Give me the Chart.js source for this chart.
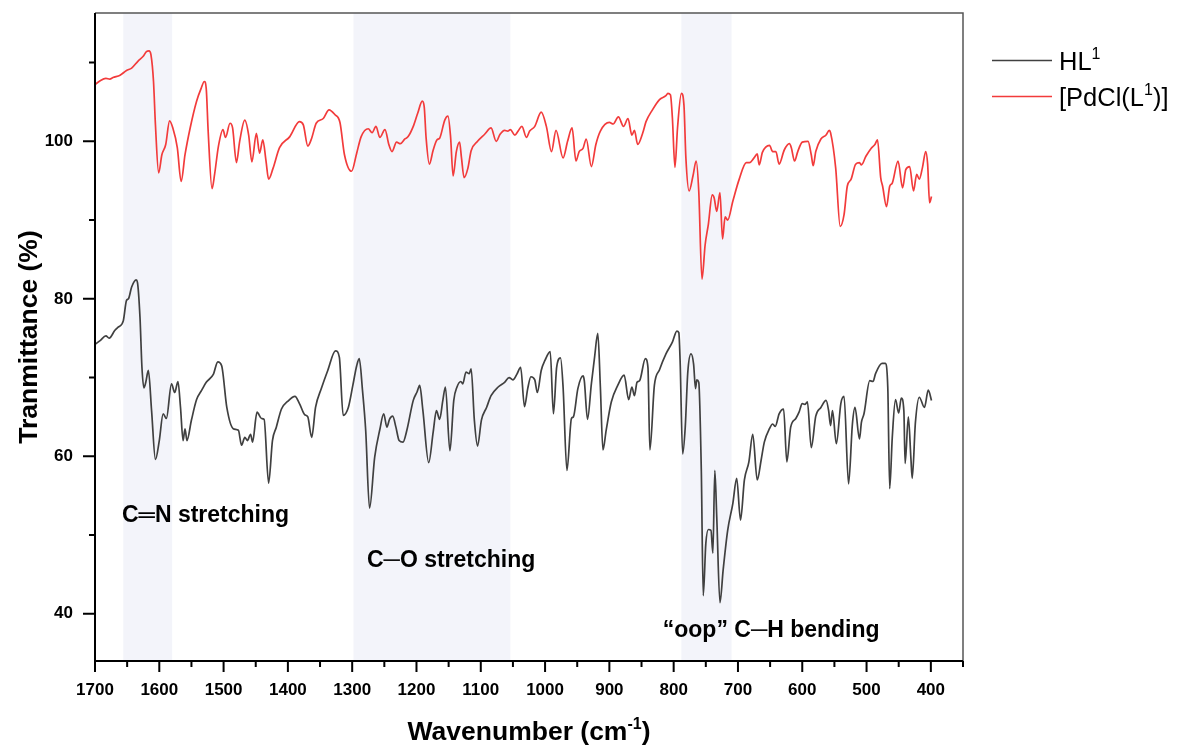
<!DOCTYPE html>
<html><head><meta charset="utf-8">
<script src="https://cdn.jsdelivr.net/npm/chart.js@4.4.1/dist/chart.umd.min.js"></script>
<style>html,body{margin:0;padding:0;background:#fff;}#wrap{width:1178px;height:747px;}</style>
</head><body><div id="wrap"><canvas id="c" width="1178" height="747"></canvas></div>
<script>
// ---- data (wavenumber in cm-1, transmittance in %) ----
const hlWave = [1700,1692,1683,1678,1669,1664,1656,1651,1648,1643,1636,1634,1630,1627,1624,1621,1617,1612,1606,1600,1594,1589,1581,1576,1571,1567,1563,1560,1557,1550,1542,1534,1527,1516,1509,1503,1495,1485,1477,1472,1467,1463,1458,1455,1448,1441,1437,1430,1424,1418,1410,1400,1389,1382,1374,1369,1363,1357,1348,1338,1326,1320,1314,1306,1299,1293,1289,1284,1279,1273,1265,1257,1251,1246,1242,1237,1232,1227,1221,1215,1205,1199,1195,1190,1181,1174,1169,1164,1159,1155,1148,1142,1137,1131,1128,1123,1118,1115,1110,1105,1099,1091,1084,1073,1063,1056,1050,1044,1038,1032,1027,1022,1016,1012,1006,1000,992,987,982,976,972,966,959,956,949,941,939,934,928,923,918,914,910,905,897,887,877,870,865,861,857,853,844,840,837,830,822,812,802,795,792,790,786,782,778,773,769,766,764,761,757,754,750,746,742,739,736,733,728,723,716,708,702,696,690,683,677,670,664,659,651,646,642,636,629,624,618,610,605,600,596,592,586,579,571,563,559,556,553,547,540,535,528,522,518,511,508,504,495,490,486,476,471,467,464,460,455,450,446,442,440,435,431,429,424,418,410,404,399];
const hlTrans = [74.2,74.7,75.3,75.0,76.0,76.4,77.2,79.8,80.0,81.5,82.4,82.1,77.6,71.3,68.7,69.4,70.9,65.8,59.6,62.0,65.4,64.8,69.2,68.1,69.5,66.2,62.0,63.5,62.0,64.6,67.2,68.4,69.4,70.4,72.0,71.5,66.2,63.5,63.3,61.4,62.4,62.0,62.8,61.8,65.6,64.8,64.7,56.6,62.0,63.7,66.0,67.0,67.6,66.7,65.3,65.0,62.4,66.2,68.6,70.9,73.4,72.6,65.2,66.2,69.0,71.5,72.4,68.4,63.3,53.4,59.9,63.4,65.4,63.7,64.7,65.1,63.7,62.0,61.8,63.3,67.1,68.2,69.0,65.8,59.2,63.1,65.8,64.7,67.1,68.8,60.7,67.1,68.8,69.5,69.2,70.7,70.5,71.1,64.6,61.3,64.6,66.2,67.7,68.8,69.4,70.0,69.7,70.4,71.3,66.3,68.6,70.1,69.7,68.1,70.9,72.2,73.3,65.4,71.3,72.5,68.8,58.2,64.8,65.0,68.6,70.2,69.6,64.7,69.2,72.6,75.6,68.8,60.8,63.3,66.9,69.0,70.3,67.2,68.8,67.7,69.4,69.6,72.4,71.3,60.8,69.0,71.0,73.0,74.5,75.9,75.7,72.2,60.3,63.7,70.7,73.0,71.7,68.6,69.7,69.4,58.2,42.3,48.9,50.7,50.6,47.7,58.2,52.3,41.4,45.6,50.6,54.0,57.2,51.9,57.0,59.3,62.8,57.0,59.5,61.8,63.5,64.1,63.8,65.4,66.0,59.3,63.7,64.8,65.6,66.7,66.6,66.9,61.1,65.1,66.2,67.1,65.8,63.9,65.8,61.6,66.7,67.6,56.5,64.1,66.2,62.2,64.3,65.4,69.6,69.5,70.5,71.8,71.8,68.8,55.9,62.4,67.2,65.5,67.4,65.8,59.1,65.0,59.7,57.2,64.3,67.5,66.2,68.4,67.1];

const pdWave = [1700,1692,1683,1677,1672,1661,1651,1643,1633,1625,1620,1616,1613,1609,1606,1601,1596,1590,1584,1579,1572,1566,1560,1552,1542,1535,1530,1527,1524,1518,1514,1508,1501,1497,1490,1486,1480,1475,1467,1461,1456,1449,1444,1439,1434,1430,1423,1413,1397,1382,1376,1369,1363,1356,1345,1336,1327,1319,1312,1301,1293,1286,1275,1269,1263,1257,1249,1243,1238,1231,1225,1218,1213,1205,1198,1191,1188,1185,1180,1174,1168,1164,1156,1151,1147,1143,1138,1133,1130,1126,1120,1115,1105,1094,1084,1076,1070,1063,1058,1054,1047,1042,1036,1029,1024,1016,1006,998,990,983,972,965,958,952,947,941,936,928,921,914,900,894,886,878,871,865,861,856,848,843,833,822,812,809,805,802,798,794,788,784,781,776,770,765,761,756,751,746,740,737,733,728,724,720,716,708,698,687,682,675,670,667,662,651,646,641,636,628,620,617,612,607,600,591,586,583,579,571,563,558,556,548,541,535,530,524,517,511,508,501,493,487,483,478,475,469,464,460,451,444,439,433,427,422,418,413,408,405,402,399];
const pdTrans = [107.2,107.7,108.0,107.9,108.1,108.4,109.0,109.3,110.2,110.8,111.4,111.5,111.0,107.6,102.1,96.0,98.3,99.6,102.6,101.7,99.2,94.9,98.3,101.7,105.1,106.7,107.6,106.7,101.3,94.0,95.8,99.4,101.5,100.5,102.3,101.7,97.3,100.0,102.7,100.8,97.4,101.0,98.5,100.2,97.5,95.2,96.6,99.2,100.6,102.5,102.1,99.4,100.4,102.3,102.9,104.0,103.4,102.4,98.3,96.2,98.5,100.6,101.6,101.1,101.9,100.5,101.5,99.6,98.7,99.9,99.7,100.3,100.6,101.9,103.6,105.1,104.4,100.4,97.1,98.9,100.2,100.4,102.7,103.2,100.6,95.6,98.7,99.9,97.9,95.4,96.6,98.8,100.0,100.9,101.7,100.0,100.9,101.4,101.3,101.5,100.8,101.3,101.9,100.5,101.3,101.9,103.7,101.9,98.7,101.4,97.9,100.0,101.7,97.5,98.7,99.1,100.3,96.8,99.6,101.3,102.4,102.2,103.1,101.9,102.9,100.8,101.4,99.6,101.1,102.5,104.0,105.3,105.8,106.1,105.9,103.0,96.7,101.7,106.1,104.6,97.9,93.7,95.6,97.5,93.7,82.5,86.9,89.5,93.2,92.8,91.1,93.5,87.6,90.4,90.0,92.4,95.2,97.3,97.3,97.9,98.4,97.0,98.6,99.5,98.7,98.7,97.1,98.9,99.7,99.2,97.5,98.7,99.9,100.0,98.3,96.9,98.7,100.3,100.8,101.4,101.1,96.6,89.2,90.7,94.3,95.2,97.1,97.3,97.0,98.1,99.1,99.6,100.2,95.4,94.3,91.7,94.3,94.7,97.5,94.1,96.4,96.8,93.7,95.8,95.2,96.7,98.7,97.1,92.2,93.0];

const xRange = [350, 1700];
const yRange = [34, 116.3];
const bands = [[1656,1580],[1298,1054],[788,710]];
const annoTexts = ['C\u2550N stretching','C\u2500O stretching','\u201Coop\u201D C\u2500H bending'];
const annoWave = [1658, 1277, 817];
const annoTrans = [52.4, 46.8, 37.85];
const seriesLabels = [[['HL',0],['1',1]], [['[PdCl(L',0],['1',1],[')]',0]]];
const xTitle = [['Wavenumber (cm',0],['-1',1],[')',0]];
const yTitle = [['Tranmittance (%)',0]];

const FONT = "'Liberation Sans', Arial, Helvetica, sans-serif";
const HL_COLOR = '#404040', PD_COLOR = '#f23b3b';

function toPts(w, t){ return w.map((v,i)=>({x:v, y:t[i]})); }

function richWidth(ctx, parts, size, bold){
  let w=0;
  for(const [t,s] of parts){
    ctx.font = (bold?'bold ':'') + (s? Math.round(size*0.62):size) + 'px ' + FONT;
    w += ctx.measureText(t).width;
  }
  return w;
}
function drawRich(ctx, parts, x, y, size, bold, align){
  const total = richWidth(ctx, parts, size, bold);
  let cx = align==='center' ? x-total/2 : x;
  ctx.textBaseline = 'alphabetic';
  ctx.textAlign = 'left';
  for(const [t,s] of parts){
    const fs = s? Math.round(size*0.62):size;
    ctx.font = (bold?'bold ':'') + fs + 'px ' + FONT;
    ctx.fillText(t, cx, s? y - size*0.42 : y);
    cx += ctx.measureText(t).width;
  }
}

const decor = {
  id:'decor',
  beforeDatasetsDraw(chart){
    const {ctx, chartArea:a, scales:{x}} = chart;
    ctx.save();
    ctx.fillStyle = '#f3f4fa';
    for(const b of bands){
      const x1 = x.getPixelForValue(b[0]), x2 = x.getPixelForValue(b[1]);
      ctx.fillRect(Math.min(x1,x2), a.top, Math.abs(x2-x1), a.bottom-a.top);
    }
    ctx.restore();
  },
  afterDatasetsDraw(chart){
    const {ctx, chartArea:a, scales:{x,y}} = chart;
    ctx.save();
    ctx.strokeStyle = '#555'; ctx.lineWidth = 1.5;
    ctx.beginPath(); ctx.moveTo(a.left, a.top); ctx.lineTo(a.right, a.top); ctx.lineTo(a.right, a.bottom); ctx.stroke();
    ctx.strokeStyle = '#000'; ctx.lineWidth = 2;
    ctx.beginPath(); ctx.moveTo(a.left, a.top); ctx.lineTo(a.left, a.bottom); ctx.lineTo(a.right, a.bottom); ctx.stroke();
    ctx.lineWidth = 2;
    ctx.beginPath();
    for(const t of x.ticks){
      const px = x.getPixelForValue(t.value);
      const len = (t.value % 100 === 0) ? 11 : 6;
      ctx.moveTo(px, a.bottom); ctx.lineTo(px, a.bottom+len);
    }
    for(const t of y.ticks){
      const py = y.getPixelForValue(t.value);
      const len = (t.value % 20 === 0) ? 12 : 6;
      ctx.moveTo(a.left-len, py); ctx.lineTo(a.left, py);
    }
    ctx.stroke();
    ctx.fillStyle = '#000';
    ctx.font = 'bold 23px ' + FONT;
    ctx.textAlign = 'left'; ctx.textBaseline = 'middle';
    annoTexts.forEach((t,i)=>{
      ctx.fillText(t, x.getPixelForValue(annoWave[i]), y.getPixelForValue(annoTrans[i]));
    });
    drawRich(ctx, xTitle, (a.left+a.right)/2, 740, 26.5, true, 'center');
    ctx.save();
    ctx.translate(37, (a.top+a.bottom)/2);
    ctx.rotate(-Math.PI/2);
    drawRich(ctx, yTitle, 0, 0, 26.5, true, 'center');
    ctx.restore();
    const ly = [60.5, 96.5];
    chart.data.datasets.forEach((ds,i)=>{
      ctx.strokeStyle = ds.borderColor; ctx.lineWidth = 1.5;
      ctx.beginPath(); ctx.moveTo(992, ly[i]); ctx.lineTo(1052, ly[i]); ctx.stroke();
      ctx.fillStyle = '#000';
      drawRich(ctx, seriesLabels[i], 1059, ly[i]+9, 25.5, false, 'left');
    });
    ctx.restore();
  }
};

const tickFont = {family: FONT, weight:'bold', size:17};
new Chart(document.getElementById('c'), {
  type:'line',
  data:{datasets:[
    {label:'HL1', data:toPts(hlWave,hlTrans), borderColor:HL_COLOR, borderWidth:1.7, pointRadius:0, cubicInterpolationMode:'monotone', fill:false},
    {label:'[PdCl(L1)]', data:toPts(pdWave,pdTrans), borderColor:PD_COLOR, borderWidth:1.7, pointRadius:0, cubicInterpolationMode:'monotone', fill:false}
  ]},
  options:{
    responsive:false, animation:false, devicePixelRatio:1,
    layout:{padding:{left:0,right:215,top:13,bottom:0}},
    plugins:{legend:{display:false}, tooltip:{enabled:false}},
    scales:{
      x:{type:'linear', reverse:true, min:xRange[0], max:xRange[1],
        ticks:{stepSize:50, includeBounds:false, autoSkip:false, maxRotation:0, minRotation:0,
          callback:v=> (v%100===0 ? String(v) : ''), font:tickFont, color:'#000', padding:8},
        grid:{display:true, drawOnChartArea:false, drawTicks:true, tickLength:11, color:'rgba(0,0,0,0)', tickColor:'rgba(0,0,0,0)'},
        border:{display:false},
        afterFit(s){ s.height = 86; s.paddingLeft = 0; s.paddingRight = 0; s.paddingTop = 0; s.paddingBottom = 0; }
      },
      y:{type:'linear', min:yRange[0], max:yRange[1],
        ticks:{stepSize:10, includeBounds:false, autoSkip:false,
          callback:v=> (v%20===0 ? String(v) : ''), font:tickFont, color:'#000', padding:10},
        grid:{display:true, drawOnChartArea:false, drawTicks:true, tickLength:12, color:'rgba(0,0,0,0)', tickColor:'rgba(0,0,0,0)'},
        border:{display:false},
        afterFit(s){ s.width = 95; s.paddingLeft = 0; s.paddingRight = 0; s.paddingTop = 0; s.paddingBottom = 0; }
      }
    }
  },
  plugins:[decor]
});
</script></body></html>
